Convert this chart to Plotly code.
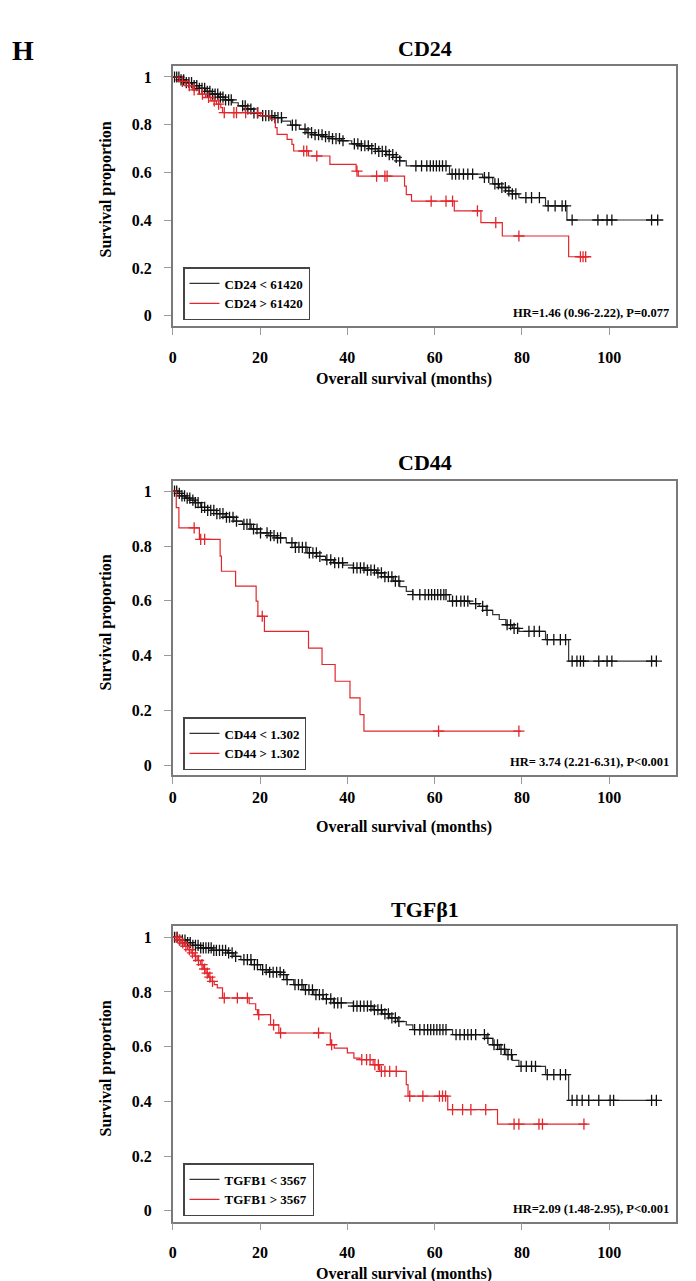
import numpy as np
import plotly.graph_objects as go

# ---------------- data (months, survival proportion) ----------------
# CD24
cd24_low_t = [0, 1.5, 3, 4.5, 6, 7.5, 9, 10.5, 12, 13.7, 15, 16.7, 18.5, 20.1, 23.2, 25, 27, 29, 30.7,
              32.5, 34.5, 36.5, 38.7, 41, 42.9, 45, 47, 49, 50.5, 52, 53.5, 63.4, 71, 73.3, 74.8, 76.3,
              77.8, 79.3, 85.4, 90.3]
cd24_low_s = [1, .988, .976, .964, .952, .94, .928, .916, .904, .892, .879, .866, .85, .838, .83, .815,
              .798, .782, .767, .758, .75, .742, .733, .72, .712, .7, .688, .675, .663, .649, .628, .593,
              .579, .552, .537, .523, .51, .495, .46, .401]
cd24_low_end = 111.1
cd24_low_cens = [0.4, 0.9, 1.4, 1.9, 2.5, 3.1, 3.7, 4.3, 4.9, 5.5, 6.1, 6.7, 7.3, 7.9, 8.5, 9.1, 9.7, 10.3,
                 10.9, 11.5, 12.1, 12.8, 13.4, 16.0, 16.6, 17.2, 17.9, 18.6, 19.4, 20.6, 21.3, 22.0, 22.7,
                 23.4, 24.1, 24.9, 27.4, 28.2, 30.3, 31.0, 31.8, 32.6, 33.4, 34.2, 35.0, 35.8, 36.6, 37.4,
                 38.2, 39.0, 41.6, 42.4, 43.2, 44.0, 44.8, 45.6, 46.4, 47.2, 48.0, 48.8, 49.6, 50.4, 51.2,
                 52.0, 55.7, 57.0, 58.2, 59.0, 59.7, 60.4, 61.1, 61.8, 62.6, 64.0, 64.8, 65.6, 66.6, 67.6,
                 68.7, 71.4, 72.4, 73.8, 74.6, 75.4, 76.2, 77.0, 77.8, 78.6, 80.9, 82.2, 84.0, 86.0, 87.6,
                 89.2, 90.0, 91.5, 97.4, 99.5, 100.6, 109.7, 111.1]
cd24_high_t = [0, 1.5, 3, 4.5, 6, 7.5, 8.7, 10, 11, 11.4, 20.1, 22.4, 23.5, 23.9, 26.2, 27.3, 27.7, 31.1,
               36.0, 42.0, 42.5, 53.1, 53.5, 54.7, 64.5, 70.6, 75.5, 90.7]
cd24_high_s = [1, .982, .964, .946, .928, .914, .9, .886, .872, .851, .837, .823, .788, .76, .739, .718,
               .69, .669, .634, .606, .585, .543, .507, .48, .439, .39, .334, .247]
cd24_high_end = 94.6
cd24_high_cens = [2.2, 3.8, 4.9, 6.8, 8.2, 9.5, 10.5, 11.8, 14.0, 14.6, 16.7, 19.5, 30.0, 30.7, 33.0, 42.2,
                  46.7, 48.6, 49.1, 59.2, 62.6, 64.1, 69.8, 74.0, 79.3, 93.4, 94.0, 94.6]

# CD44
cd44_low_t = [0, 1, 2, 3, 4, 5, 6.4, 8, 10, 12, 14, 16, 18, 20.1, 22, 23.9, 26, 28, 30.8, 33, 35, 36.8, 39,
              41.4, 44, 46.7, 48.5, 50.5, 52, 53.5, 55, 63.4, 68, 70.2, 71.8, 73.3, 74.8, 76.3, 77.8, 79.3,
              85.4, 90.7]
cd44_low_s = [1, .992, .983, .975, .967, .958, .941, .93, .918, .905, .891, .879, .862, .848, .838, .83,
              .812, .795, .775, .762, .75, .739, .73, .72, .712, .702, .688, .672, .652, .635, .623, .599,
              .59, .58, .565, .55, .532, .513, .5, .489, .459, .38]
cd44_low_end = 110.8
cd44_low_cens = [0.4, 0.9, 1.5, 2.1, 2.7, 3.3, 3.9, 4.6, 5.2, 5.8, 6.6, 7.3, 8.0, 8.7, 9.4, 10.1, 10.8, 11.5,
                 12.3, 13.0, 13.8, 14.6, 16.3, 17.0, 17.7, 18.5, 19.3, 20.1, 21.6, 22.4, 23.2, 24.0, 24.7,
                 27.3, 28.1, 28.9, 29.7, 30.5, 31.3, 32.1, 32.9, 33.7, 35.3, 36.2, 37.1, 38.0, 38.9, 41.4,
                 42.2, 43.0, 43.8, 44.6, 45.4, 46.2, 47.0, 47.8, 48.6, 49.4, 50.2, 51.0, 51.8, 55.0, 56.6,
                 57.8, 58.6, 59.3, 60.0, 60.7, 61.4, 62.1, 62.6, 64.1, 65.0, 66.0, 66.8, 67.6, 69.4, 71.0,
                 72.0, 76.6, 77.4, 78.2, 79.0, 81.6, 82.8, 84.0, 85.8, 87.3, 88.8, 90.0, 91.5, 92.6, 93.4,
                 94.1, 97.6, 99.5, 100.6, 109.7, 110.8]
cd44_high_t = [0, 0.8, 1.4, 6.1, 10.85, 11.15, 14.4, 19.1, 19.5, 21.0, 31.1, 34.2, 37.2, 40.6, 42.9, 43.8]
cd44_high_s = [1, .94, .866, .824, .763, .708, .654, .599, .544, .489, .428, .368, .307, .246, .185, .125]
cd44_high_end = 79.8
cd44_high_cens = [4.9, 6.4, 7.3, 20.5, 60.9, 79.3]

# TGFB1
tgf_low_t = [0, 1.5, 3, 4.5, 6.4, 9, 12.5, 14, 15.6, 18, 20.1, 22, 24.7, 26, 27.7, 30, 32.3, 34.5, 36.8,
             41.4, 45.9, 48, 49.7, 51.5, 53.5, 55, 64.1, 71.8, 73.3, 74.8, 76.3, 77.8, 79.3, 85.4, 90.7]
tgf_low_s = [1, .99, .98, .97, .961, .952, .943, .93, .918, .9, .882, .872, .863, .845, .827, .808, .79,
             .775, .76, .748, .735, .72, .705, .692, .68, .662, .644, .63, .607, .59, .571, .55, .528,
             .498, .404]
tgf_low_end = 110.8
tgf_low_cens = [0.4, 1.0, 1.6, 2.2, 2.8, 3.4, 4.0, 4.6, 5.2, 5.8, 6.4, 7.0, 7.6, 8.2, 8.8, 9.4, 10.0, 10.7,
                11.4, 12.1, 12.8, 13.6, 14.4, 16.3, 17.1, 17.9, 18.7, 19.4, 20.6, 21.4, 22.2, 23.0, 23.8,
                24.6, 25.4, 26.2, 28.0, 28.8, 29.6, 30.4, 31.2, 32.0, 32.8, 33.6, 34.4, 35.2, 36.2, 37.0,
                37.8, 38.6, 41.4, 42.2, 43.0, 43.8, 44.6, 45.4, 46.2, 47.0, 47.8, 48.6, 49.4, 50.2, 51.0,
                51.8, 55.4, 56.6, 57.6, 58.4, 59.1, 59.8, 60.5, 61.2, 61.9, 62.6, 64.9, 65.8, 66.8, 67.6,
                68.4, 69.4, 71.4, 72.2, 73.6, 74.4, 75.2, 76.0, 76.8, 77.6, 79.8, 81.0, 82.2, 83.1, 85.8,
                87.3, 88.8, 90.0, 91.5, 92.6, 93.8, 95.3, 97.6, 100.2, 101.0, 109.7, 110.8]
tgf_high_t = [0, 1.1, 1.9, 2.6, 3.4, 4.2, 4.9, 5.6, 6.4, 7.0, 7.6, 8.2, 8.7, 9.5, 10.2, 11.4, 17.5, 19.0,
              19.4, 22.4, 24.3, 36.1, 37.0, 40.0, 41.5, 42.9, 45.9, 47.4, 53.5, 53.9, 63.0, 74.4]
tgf_high_s = [1, .99, .979, .967, .955, .943, .931, .915, .9, .884, .869, .854, .839, .827, .815, .778,
              .757, .735, .717, .68, .65, .607, .595, .577, .558, .553, .534, .51, .461, .419, .37, .317]
tgf_high_end = 94.9
tgf_high_cens = [0.8, 1.5, 2.3, 3.0, 3.8, 4.5, 5.2, 5.9, 6.7, 7.3, 7.9, 8.5, 9.1, 11.8, 14.8, 17.1, 19.7,
                 23.1, 24.7, 33.4, 36.4, 43.3, 44.4, 45.2, 46.3, 47.1, 47.8, 48.6, 49.7, 51.2, 54.3, 57.3,
                 61.1, 61.8, 62.5, 64.1, 66.4, 68.3, 71.7, 78.2, 79.3, 83.9, 84.7, 94.2]

titles = ["CD24", "CD44", "TGF\u03b21"]
low_names = ["CD24 < 61420", "CD44 < 1.302", "TGFB1 < 3567"]
high_names = ["CD24 > 61420", "CD44 > 1.302", "TGFB1 > 3567"]
hr_texts = ["HR=1.46 (0.96-2.22), P=0.077", "HR= 3.74 (2.21-6.31), P<0.001", "HR=2.09 (1.48-2.95), P<0.001"]
x_ticks = [0, 20, 40, 60, 80, 100]
y_ticks = [0, 0.2, 0.4, 0.6, 0.8, 1]

panels = [
    (cd24_low_t, cd24_low_s, cd24_low_end, cd24_low_cens, cd24_high_t, cd24_high_s, cd24_high_end, cd24_high_cens),
    (cd44_low_t, cd44_low_s, cd44_low_end, cd44_low_cens, cd44_high_t, cd44_high_s, cd44_high_end, cd44_high_cens),
    (tgf_low_t, tgf_low_s, tgf_low_end, tgf_low_cens, tgf_high_t, tgf_high_s, tgf_high_end, tgf_high_cens),
]

# ---------------- layout geometry (pixels) ----------------
W, H = 696, 1281
X_LEFT, X_RIGHT = 161.7, 668.3
boxes = [(58, 318), (473.3, 767.3), (918.3, 1213.5)]
y_ranges = [[-0.043, 1.046], [-0.036, 1.036], [-0.039, 1.040]]
x_range = [0, 115.4]
title_y = [40, 455, 901]
ytitle_y = [181, 614, 1060]
xtitle_y = [371, 819, 1266]
legend_bottom = [312, 762, 1208]
hr_y = [305, 754, 1201]
xlab_standoff = [9, 0, 9]

BLACK_LINE = "#333333"
BLACK_MARK = "#111111"
RED = "#e2262c"
FONT = "Liberation Serif"


def px(x):
    return x / W


def py(y):
    return 1 - y / H


def level(ts, ss, c):
    idx = np.searchsorted(np.array(ts), np.array(c), side="right") - 1
    return np.array(ss)[idx]


fig = go.Figure()
annotations = []
for i, (lt, ls, le, lc, ht, hs, he, hc) in enumerate(panels):
    sfx = "" if i == 0 else str(i + 1)
    xa, ya = "x" + sfx, "y" + sfx
    leg = "legend" + sfx
    for (t, s, e, c, color, mcolor, name) in [
        (lt, ls, le, lc, BLACK_LINE, BLACK_MARK, low_names[i]),
        (ht, hs, he, hc, RED, RED, high_names[i]),
    ]:
        fig.add_trace(go.Scatter(
            x=list(t) + [e], y=list(s) + [s[-1]], mode="lines",
            line=dict(color=color, width=1.2, shape="hv"),
            name=name, xaxis=xa, yaxis=ya, legend=leg, showlegend=True,
            hoverinfo="skip"))
        fig.add_trace(go.Scatter(
            x=c, y=level(t, s, c), mode="markers",
            marker=dict(symbol="cross-thin", size=8, line=dict(width=1.3, color=mcolor)),
            xaxis=xa, yaxis=ya, showlegend=False, hoverinfo="skip"))

    top, bot = boxes[i]
    axis_common = dict(showline=True, mirror=True, linecolor="#7a7a7a", linewidth=1.5,
                       showgrid=False, zeroline=False, ticks="outside", ticklen=7,
                       tickcolor="#9a9a9a", tickwidth=1,
                       tickfont=dict(family=FONT, size=16, color="black", weight="bold"))
    fig.update_layout(**{
        "xaxis" + sfx: dict(domain=[px(X_LEFT), px(X_RIGHT)], range=x_range, anchor=ya,
                            tickvals=x_ticks, ticklabelstandoff=xlab_standoff[i], **axis_common),
        "yaxis" + sfx: dict(domain=[py(bot), py(top)], range=y_ranges[i], anchor=xa,
                            tickvals=y_ticks, ticklabelstandoff=9, **axis_common),
        leg: dict(x=px(172), y=py(legend_bottom[i]), xanchor="left", yanchor="bottom",
                  bgcolor="white", bordercolor="#444444", borderwidth=1.5,
                  font=dict(family=FONT, size=13, color="black", weight="bold"),
                  itemwidth=30, tracegroupgap=0),
    })

    annotations.append(dict(text=titles[i], x=px(415), y=py(title_y[i]), xref="paper", yref="paper",
                            showarrow=False, xanchor="center", yanchor="middle",
                            font=dict(family=FONT, size=22, color="black", weight="bold")))
    annotations.append(dict(text="Survival proportion", x=px(95), y=py(ytitle_y[i]), xref="paper",
                            yref="paper", showarrow=False, textangle=-90, xanchor="center",
                            yanchor="middle",
                            font=dict(family=FONT, size=16, color="black", weight="bold")))
    annotations.append(dict(text="Overall survival (months)", x=px(394), y=py(xtitle_y[i]), xref="paper",
                            yref="paper", showarrow=False, xanchor="center", yanchor="middle",
                            font=dict(family=FONT, size=16, color="black", weight="bold")))
    annotations.append(dict(text=hr_texts[i], x=px(663), y=py(hr_y[i]), xref="paper", yref="paper",
                            showarrow=False, xanchor="right", yanchor="middle",
                            font=dict(family=FONT, size=12.5, color="black", weight="bold")))

annotations.append(dict(text="H", x=px(11), y=py(42), xref="paper", yref="paper", showarrow=False,
                        xanchor="center", yanchor="middle",
                        font=dict(family=FONT, size=28, color="black", weight="bold")))

fig.update_layout(width=W, height=H, margin=dict(l=0, r=0, t=0, b=0),
                  paper_bgcolor="white", plot_bgcolor="white",
                  annotations=annotations, showlegend=True)

fig.write_html("out.html")
